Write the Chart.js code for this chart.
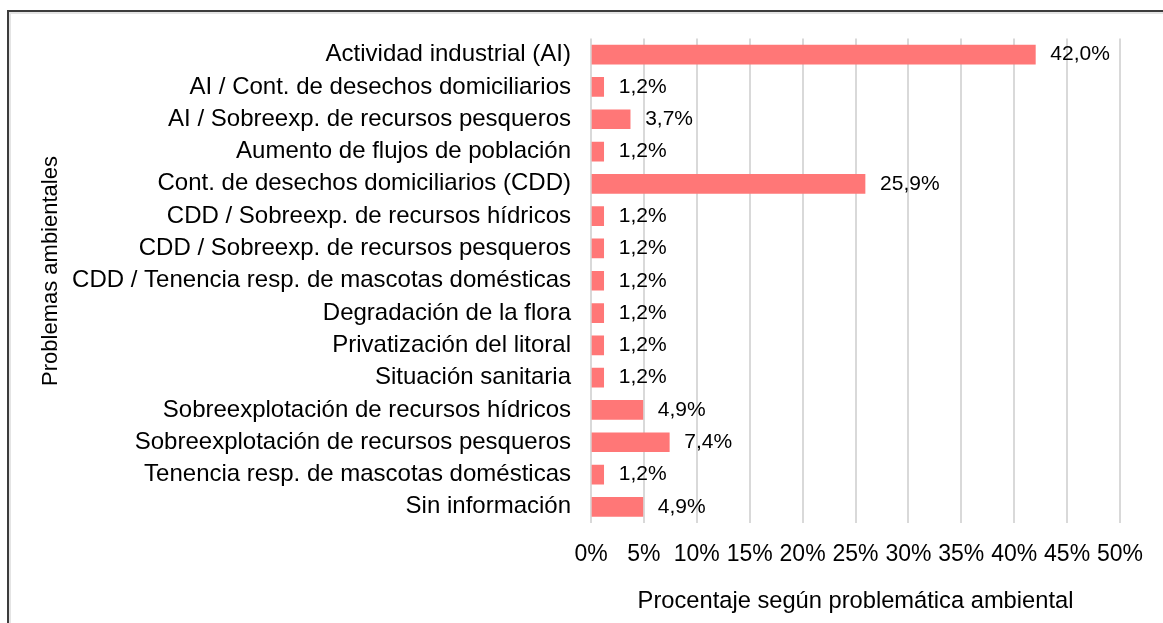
<!DOCTYPE html>
<html><head><meta charset="utf-8">
<script src="https://cdn.jsdelivr.net/npm/chart.js@4/dist/chart.umd.min.js"></script>
<style>
html,body{margin:0;padding:0;background:#fff;width:1163px;height:623px;overflow:hidden;}
#frame{position:absolute;left:7px;top:10px;width:1300px;height:800px;border-top:2px solid #3c3c3c;border-left:2px solid #3c3c3c;box-shadow:inset 2px 2px 0 #e4e4e4;}
#wrap{position:absolute;left:0;top:0;width:1163px;height:623px;}
</style></head><body>
<div id="frame"></div>
<div id="wrap"><canvas id="c" width="1163" height="623"></canvas></div>
<script>
const categories = [
  'Actividad industrial (AI)',
  'AI / Cont. de desechos domiciliarios',
  'AI / Sobreexp. de recursos pesqueros',
  'Aumento de flujos de población',
  'Cont. de desechos domiciliarios (CDD)',
  'CDD / Sobreexp. de recursos hídricos',
  'CDD / Sobreexp. de recursos pesqueros',
  'CDD / Tenencia resp. de mascotas domésticas',
  'Degradación de la flora',
  'Privatización del litoral',
  'Situación sanitaria',
  'Sobreexplotación de recursos hídricos',
  'Sobreexplotación de recursos pesqueros',
  'Tenencia resp. de mascotas domésticas',
  'Sin información'
];
const values = [42.0, 1.2, 3.7, 1.2, 25.9, 1.2, 1.2, 1.2, 1.2, 1.2, 1.2, 4.9, 7.4, 1.2, 4.9];
const xTicks = [0, 5, 10, 15, 20, 25, 30, 35, 40, 45, 50];
const xTitle = 'Procentaje según problemática ambiental';
const yTitle = 'Problemas ambientales';

const FONT = '"Liberation Sans", Arial, sans-serif';
const fmt = v => v.toFixed(1).replace('.', ',') + '%';

const valueLabels = {
  id: 'valueLabels',
  afterDatasetsDraw(chart) {
    const ctx = chart.ctx;
    const meta = chart.getDatasetMeta(0);
    ctx.save();
    ctx.font = '21px ' + FONT;
    ctx.fillStyle = '#000';
    ctx.textBaseline = 'middle';
    ctx.textAlign = 'left';
    meta.data.forEach((bar, i) => {
      ctx.fillText(fmt(values[i]), bar.x + 15, bar.y);
    });
    ctx.restore();
  }
};

const yAxisTitle = {
  id: 'yAxisTitle',
  afterDraw(chart) {
    const ctx = chart.ctx;
    ctx.save();
    ctx.font = '22px ' + FONT;
    ctx.fillStyle = '#000';
    ctx.textBaseline = 'middle';
    ctx.textAlign = 'center';
    ctx.translate(51, 271);
    ctx.rotate(-Math.PI / 2);
    ctx.fillText(yTitle, 0, 0);
    ctx.restore();
  }
};

new Chart(document.getElementById('c'), {
  type: 'bar',
  data: {
    labels: categories,
    datasets: [{
      data: values,
      backgroundColor: '#ff7777',
      borderWidth: 0,
      barThickness: 19
    }]
  },
  options: {
    indexAxis: 'y',
    responsive: false,
    devicePixelRatio: 1,
    animation: false,
    plugins: { legend: { display: false }, tooltip: { enabled: false } },
    layout: { padding: { left: 30, right: 43, top: 38.5, bottom: 7 } },
    scales: {
      x: {
        min: 0, max: 50,
        afterBuildTicks: s => { s.ticks = xTicks.map(v => ({ value: v })); },
        ticks: { callback: v => v + '%', color: '#000', font: { family: FONT, size: 23 }, padding: 18, maxRotation: 0, autoSkip: false },
        grid: { color: '#d9d9d9', lineWidth: 2, drawTicks: false },
        border: { display: false },
        title: { display: true, text: xTitle, color: '#000', font: { family: FONT, size: 23.7 }, padding: { top: 0, bottom: 0 } },
        afterFit: s => { s.height = 93; }
      },
      y: {
        ticks: { color: '#000', font: { family: FONT, size: 24 }, padding: 20, autoSkip: false },
        grid: { display: false, drawTicks: false },
        border: { display: false },
        title: { display: false },
        afterFit: s => { s.width = 561; }
      }
    }
  },
  plugins: [valueLabels, yAxisTitle]
});
</script>
</body></html>
